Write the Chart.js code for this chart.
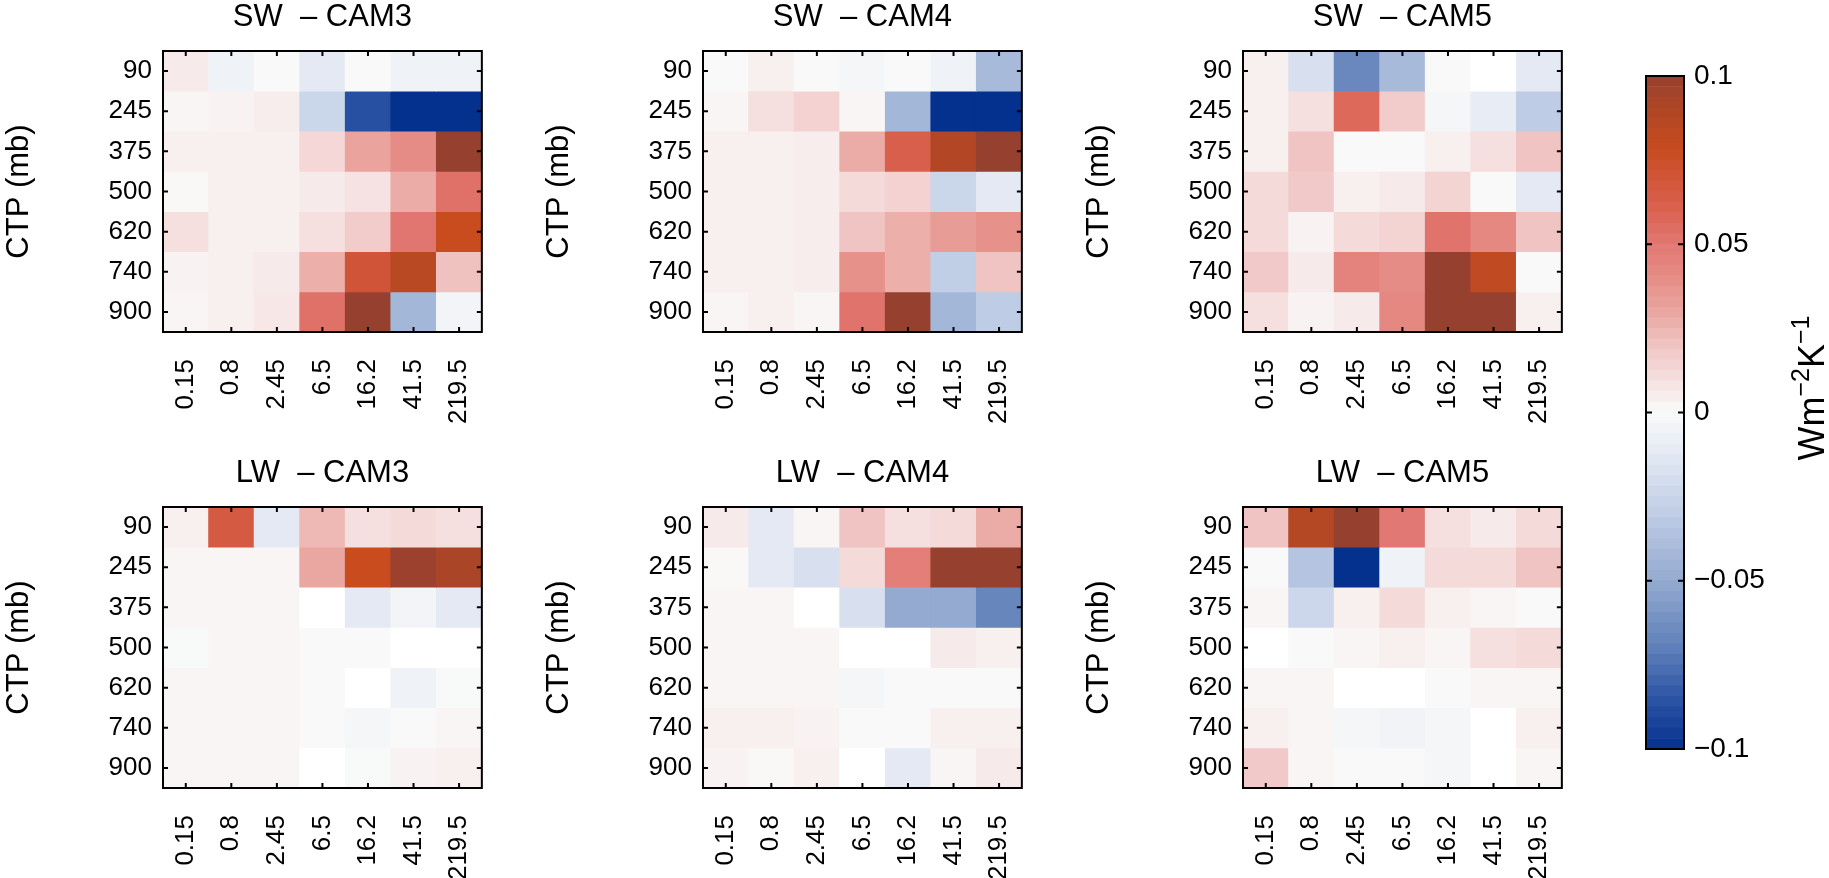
<!DOCTYPE html>
<html>
<head>
<meta charset="utf-8">
<script src="https://cdn.jsdelivr.net/npm/chart.js@4.4.1/dist/chart.umd.min.js"></script>
<style>
html, body { margin: 0; padding: 0; background: #fff; overflow: hidden; }
#page { position: relative; width: 1829px; height: 878px; }
#page canvas { position: absolute; }
</style>
</head>
<body>
<div id="page"></div>
<script>
// cloud-top pressure rows (top to bottom) and optical depth columns
const ctpLabels = ["90", "245", "375", "500", "620", "740", "900"];
const tauLabels = ["0.15", "0.8", "2.45", "6.5", "16.2", "41.5", "219.5"];
const colorbarTicks = [-0.1, -0.05, 0, 0.05, 0.1];

// feedback values, W m-2 K-1 (null = empty bin, left white)
const swCam3 = [
    [0.006, -0.006, -0.0005, -0.012, -0.0005, -0.006, -0.006],
    [0.002, 0.003, 0.005, -0.025, -0.087, -0.1, -0.1],
    [0.004, 0.004, 0.004, 0.013, 0.031, 0.04, 0.1],
    [0.001, 0.004, 0.004, 0.006, 0.009, 0.028, 0.053],
    [0.01, 0.004, 0.004, 0.01, 0.017, 0.051, 0.078],
    [0.003, 0.004, 0.006, 0.027, 0.07, 0.085, 0.021],
    [0.002, 0.004, 0.007, 0.053, 0.1, -0.043, -0.004]
];
const swCam4 = [
    [-0.0005, 0.004, -0.0005, -0.003, -0.0005, -0.006, -0.041],
    [0.002, 0.01, 0.015, 0.002, -0.043, -0.1, -0.1],
    [0.004, 0.004, 0.005, 0.028, 0.062, 0.088, 0.1],
    [0.004, 0.004, 0.005, 0.012, 0.015, -0.025, -0.012],
    [0.004, 0.004, 0.005, 0.02, 0.027, 0.034, 0.038],
    [0.004, 0.004, 0.005, 0.038, 0.027, -0.03, 0.02],
    [0.002, 0.004, 0.002, 0.052, 0.1, -0.043, -0.031]
];
const swCam5 = [
    [0.004, -0.018, -0.066, -0.041, -0.0005, null, -0.012],
    [0.004, 0.01, 0.057, 0.017, -0.003, -0.01, -0.031],
    [0.004, 0.02, -0.0005, -0.0005, 0.004, 0.01, 0.02],
    [0.012, 0.018, 0.004, 0.006, 0.014, -0.0005, -0.012],
    [0.012, 0.003, 0.012, 0.014, 0.052, 0.042, 0.02],
    [0.018, 0.006, 0.045, 0.04, 0.1, 0.082, -0.0005],
    [0.01, 0.003, 0.006, 0.042, 0.1, 0.1, 0.004]
];
const lwCam3 = [
    [0.004, 0.066, -0.012, 0.024, 0.01, 0.012, 0.01],
    [0.002, 0.002, 0.002, 0.03, 0.078, 0.098, 0.092],
    [0.002, 0.002, 0.002, null, -0.012, -0.004, -0.012],
    [-0.001, 0.002, 0.002, -0.0005, -0.0005, null, null],
    [0.002, 0.002, 0.002, -0.0005, null, -0.006, -0.001],
    [0.002, 0.002, 0.002, -0.0005, -0.003, -0.0005, 0.002],
    [0.002, 0.002, 0.002, null, -0.001, 0.003, 0.004]
];
const lwCam4 = [
    [0.006, -0.012, 0.002, 0.02, 0.01, 0.012, 0.028],
    [0.001, -0.012, -0.018, 0.012, 0.047, 0.1, 0.1],
    [0.002, 0.002, null, -0.018, -0.05, -0.05, -0.067],
    [0.002, 0.002, 0.002, null, null, 0.006, 0.004],
    [0.002, 0.002, 0.002, -0.003, -0.0005, -0.0005, -0.0005],
    [0.004, 0.004, 0.003, -0.0005, -0.0005, 0.004, 0.004],
    [0.003, 0.001, 0.004, null, -0.012, 0.002, 0.006]
];
const lwCam5 = [
    [0.02, 0.087, 0.1, 0.05, 0.01, 0.006, 0.012],
    [-0.0005, -0.035, -0.1, -0.006, 0.012, 0.012, 0.02],
    [0.002, -0.024, 0.004, 0.012, 0.004, 0.002, -0.0005],
    [null, -0.0005, 0.002, 0.004, 0.002, 0.01, 0.012],
    [0.002, 0.002, null, null, -0.0005, 0.002, 0.002],
    [0.004, 0.002, -0.003, -0.005, -0.003, null, 0.004],
    [0.018, 0.002, -0.0005, -0.0005, -0.003, null, 0.002]
];

const colorStops = [
    [-0.1, [5, 49, 142]],
    [-0.085, [45, 85, 165]],
    [-0.07, [95, 128, 185]],
    [-0.05, [148, 170, 208]],
    [-0.03, [192, 206, 230]],
    [-0.015, [222, 229, 242]],
    [0, [250, 250, 250]],
    [0.01, [245, 223, 223]],
    [0.02, [240, 196, 194]],
    [0.03, [234, 166, 160]],
    [0.04, [230, 140, 134]],
    [0.05, [226, 120, 115]],
    [0.06, [218, 98, 80]],
    [0.07, [208, 84, 55]],
    [0.078, [200, 76, 30]],
    [0.09, [175, 70, 38]],
    [0.1, [150, 64, 48]]
];

function colorFor(v) {
    if (v === null) return "#ffffff";
    const c = Math.max(-0.1, Math.min(0.1, v));
    for (let i = 1; i < colorStops.length; i++) {
        const [v1, c1] = colorStops[i];
        if (c <= v1) {
            const [v0, c0] = colorStops[i - 1];
            const t = (c - v0) / (v1 - v0);
            return `rgb(${c0.map((a, k) => Math.round(a + (c1[k] - a) * t)).join(",")})`;
        }
    }
    return "rgb(150,64,48)";
}

Chart.defaults.font.family = '"Liberation Sans", Arial, sans-serif';
Chart.defaults.color = "#000";

const page = document.getElementById("page");
function makeCanvas(left, top, width, height) {
    const c = document.createElement("canvas");
    c.width = width;
    c.height = height;
    c.style.left = left + "px";
    c.style.top = top + "px";
    page.appendChild(c);
    return c;
}

// black box round the plot with short inward ticks on all four sides
const framePlugin = {
    id: "frame",
    afterDraw(chart) {
        const { ctx, chartArea: { left, right, top, bottom }, scales: { x, y } } = chart;
        const len = 5;
        ctx.save();
        ctx.strokeStyle = "#000";
        ctx.lineWidth = 2;
        ctx.beginPath();
        x.ticks.forEach((t, i) => {
            const px = x.getPixelForTick(i);
            ctx.moveTo(px, top); ctx.lineTo(px, top + len);
            ctx.moveTo(px, bottom); ctx.lineTo(px, bottom - len);
        });
        y.ticks.forEach((t, i) => {
            const py = y.getPixelForTick(i);
            ctx.moveTo(left, py); ctx.lineTo(left + len, py);
            ctx.moveTo(right, py); ctx.lineTo(right - len, py);
        });
        ctx.stroke();
        ctx.strokeRect(left, top, right - left, bottom - top);
        ctx.restore();
    }
};

function heatmap(canvas, title, grid, xAxisHeight) {
    new Chart(canvas, {
        type: "bar",
        data: {
            labels: tauLabels,
            datasets: ctpLabels.map((ctp, r) => ({
                label: ctp,
                data: grid[r].map(() => 1),
                backgroundColor: grid[r].map(colorFor),
                borderWidth: 0,
                barPercentage: 1,
                categoryPercentage: 1
            }))
        },
        options: {
            responsive: false,
            animation: false,
            events: [],
            layout: { padding: { left: 0, top: 0, right: 19, bottom: 0 } },
            plugins: {
                legend: { display: false },
                tooltip: { enabled: false },
                title: {
                    display: true,
                    text: title,
                    fullSize: false,
                    color: "#000",
                    font: { size: 31, weight: "normal", lineHeight: 1 },
                    padding: { top: 2, bottom: 18 }
                }
            },
            scales: {
                x: {
                    stacked: true,
                    grid: { display: false, drawTicks: false },
                    border: { display: false },
                    afterFit: s => { s.height = xAxisHeight; },
                    ticks: {
                        autoSkip: false,
                        minRotation: 90,
                        maxRotation: 90,
                        padding: 27,
                        font: { size: 26 }
                    }
                },
                y: {
                    stacked: true,
                    reverse: true,
                    min: 0,
                    max: ctpLabels.length,
                    grid: { display: false, drawTicks: false },
                    border: { display: false },
                    afterBuildTicks: s => { s.ticks = ctpLabels.map((_, i) => ({ value: i + 0.5 })); },
                    afterFit: s => { s.width = 163; },
                    ticks: {
                        callback: (v, i) => ctpLabels[i],
                        padding: 11,
                        font: { size: 26 }
                    },
                    title: {
                        display: true,
                        text: "CTP (mb)",
                        font: { size: 31 },
                        padding: { top: 1, bottom: 0 }
                    }
                }
            }
        },
        plugins: [framePlugin]
    });
}

heatmap(makeCanvas(0, 0, 520, 456), "SW  \u2013 CAM3", swCam3, 124);
heatmap(makeCanvas(540, 0, 520, 456), "SW  \u2013 CAM4", swCam4, 124);
heatmap(makeCanvas(1080, 0, 520, 456), "SW  \u2013 CAM5", swCam5, 124);
heatmap(makeCanvas(0, 456, 520, 422), "LW  \u2013 CAM3", lwCam3, 90);
heatmap(makeCanvas(540, 456, 520, 422), "LW  \u2013 CAM4", lwCam4, 90);
heatmap(makeCanvas(1080, 456, 520, 422), "LW  \u2013 CAM5", lwCam5, 90);

// colour bar: 64 flat bands between -0.1 and 0.1
const levelCount = 64;
const bandEdges = Array.from({ length: levelCount + 1 }, (_, k) => -0.1 + 0.2 * k / levelCount);

const colorbarFrame = {
    id: "colorbarFrame",
    afterDraw(chart) {
        const { ctx, chartArea: { left, right, top, bottom }, scales: { y } } = chart;
        ctx.save();
        ctx.strokeStyle = "#000";
        ctx.lineWidth = 2;
        ctx.beginPath();
        colorbarTicks.slice(1, -1).forEach(v => {
            const py = y.getPixelForValue(v);
            ctx.moveTo(left, py); ctx.lineTo(left + 6, py);
            ctx.moveTo(right, py); ctx.lineTo(right - 6, py);
        });
        ctx.stroke();
        ctx.strokeRect(left, top, right - left, bottom - top);

        // unit label, rotated, with superscripts
        const parts = [["Wm", 0], ["\u22122", 1], ["K", 0], ["\u22121", 1]];
        const big = 36, small = 25;
        ctx.fillStyle = "#000";
        ctx.textBaseline = "alphabetic";
        ctx.textAlign = "left";
        let total = 0;
        parts.forEach(([t, sup]) => {
            ctx.font = `${sup ? small : big}px "Liberation Sans", Arial, sans-serif`;
            total += ctx.measureText(t).width;
        });
        ctx.translate(224, 388);
        ctx.rotate(-Math.PI / 2);
        let pos = -total / 2;
        parts.forEach(([t, sup]) => {
            ctx.font = `${sup ? small : big}px "Liberation Sans", Arial, sans-serif`;
            ctx.fillText(t, pos, sup ? -15 : 0);
            pos += ctx.measureText(t).width;
        });
        ctx.restore();
    }
};

new Chart(makeCanvas(1600, 0, 229, 878), {
    type: "bar",
    data: {
        labels: [""],
        datasets: bandEdges.slice(0, -1).map((lo, k) => ({
            data: [[lo, bandEdges[k + 1]]],
            backgroundColor: colorFor((lo + bandEdges[k + 1]) / 2),
            borderWidth: 0,
            grouped: false,
            barPercentage: 1,
            categoryPercentage: 1
        }))
    },
    options: {
        responsive: false,
        animation: false,
        events: [],
        layout: { padding: { left: 46, top: 76, right: 0, bottom: 129 } },
        plugins: { legend: { display: false }, tooltip: { enabled: false } },
        scales: {
            x: { display: false },
            y: {
                position: "right",
                min: -0.1,
                max: 0.1,
                grid: { display: false, drawTicks: false },
                border: { display: false },
                afterBuildTicks: s => { s.ticks = colorbarTicks.map(v => ({ value: v })); },
                afterFit: s => { s.width = 145; },
                ticks: {
                    padding: 10,
                    font: { size: 28 },
                    callback: v => String(v).replace("-", "\u2212")
                }
            }
        }
    },
    plugins: [colorbarFrame]
});
</script>
</body>
</html>
